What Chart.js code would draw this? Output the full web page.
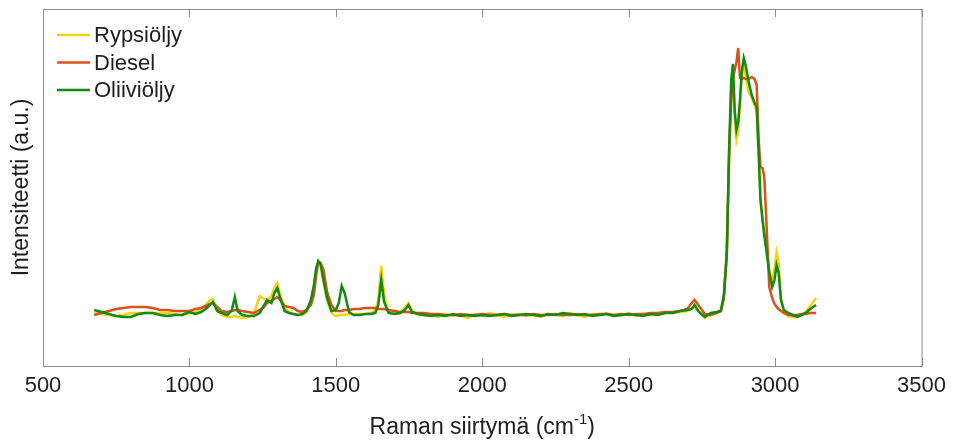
<!doctype html>
<html lang="fi">
<head>
<meta charset="utf-8">
<title>Raman-spektrit</title>
<script src="https://cdn.jsdelivr.net/npm/chart.js@4.4.1/dist/chart.umd.min.js"></script>
<style>
  html, body { margin: 0; padding: 0; background: #fff; }
  #wrap { position: relative; width: 953px; height: 441px; }
</style>
</head>
<body>
<div id="wrap"><canvas id="chart"></canvas></div>
<script>
// Raman shift grid (cm^-1), shared by all three spectra
const wavenumbers = [
  675, 700, 725, 750, 775, 800, 825, 850, 875, 900,
  925, 950, 975, 1000, 1020, 1040, 1055, 1070, 1080, 1095,
  1110, 1130, 1145, 1155, 1165, 1180, 1200, 1220, 1240, 1255,
  1265, 1280, 1290, 1300, 1310, 1325, 1340, 1355, 1370, 1385,
  1400, 1415, 1425, 1433, 1440, 1448, 1458, 1470, 1485, 1500,
  1510, 1520, 1530, 1545, 1560, 1580, 1600, 1620, 1635, 1645,
  1655, 1665, 1680, 1700, 1720, 1735, 1748, 1760, 1780, 1800,
  1825, 1850, 1875, 1900, 1925, 1950, 1975, 2000, 2025, 2050,
  2075, 2100, 2125, 2150, 2175, 2200, 2225, 2250, 2275, 2300,
  2325, 2350, 2375, 2400, 2425, 2450, 2475, 2500, 2525, 2550,
  2575, 2600, 2625, 2650,
  2675, 2700, 2715, 2725, 2740, 2760, 2780, 2800, 2815, 2825,
  2835, 2843, 2850, 2856, 2862, 2868, 2874, 2880, 2886, 2893,
  2900, 2910, 2920, 2930, 2937, 2944, 2950, 2957, 2963, 2970,
  2980, 2990, 2998, 3005, 3012, 3020, 3030, 3045, 3060, 3075,
  3090, 3105, 3120, 3130, 3140,
];

// intensities (a.u.)
const rypsioljy = [
  53, 52, 51, 50, 51, 53, 53, 53, 53, 53,
  53, 52, 51, 53, 54, 57, 61, 66, 67, 56,
  51, 49, 49, 50, 49, 48, 49, 52, 70, 67,
  66, 70, 78, 83, 72, 58, 54, 52, 51, 51,
  54, 64, 79, 96, 104, 100, 83, 66, 53, 50,
  51, 51, 51, 52, 52, 52, 52, 53, 56, 66,
  100, 71, 54, 53, 54, 58, 63, 55, 52, 51,
  51, 49, 52, 50, 51, 48, 52, 50, 53, 51,
  49, 51, 52, 50, 51, 49, 52, 51, 50, 53,
  51, 49, 52, 51, 53, 50, 51, 53, 50, 52,
  51, 53, 54, 53,
  54, 55, 57, 59, 54, 48, 51, 53, 57, 69,
  108, 201, 271, 294, 246, 226, 234, 261, 288, 303,
  288, 274, 268, 261, 254, 211, 166, 148, 134, 118,
  96, 84, 98, 114, 104, 68, 53, 50, 49, 49,
  51, 54, 60, 64, 68,
];

const diesel = [
  51, 53, 55, 57, 58, 59, 59, 59, 58, 56,
  56, 55, 55, 55, 57, 58, 60, 62, 63, 59,
  55, 54, 55, 56, 56, 55, 54, 53, 56, 59,
  63, 65, 67, 69, 66, 60, 59, 58, 55, 54,
  56, 61, 71, 91, 104, 103, 96, 74, 61, 55,
  55, 55, 56, 56, 57, 57, 58, 58, 58, 57,
  57, 57, 56, 55, 54, 54, 54, 53, 53, 53,
  52, 52, 51, 51, 52, 51, 51, 52, 51, 51,
  52, 51, 51, 51, 52, 51, 51, 52, 51, 51,
  52, 51, 51, 52, 52, 51, 52, 51, 52, 52,
  53, 53, 54, 54,
  55, 57, 63, 66, 60, 52, 51, 53, 55, 68,
  116, 216, 266, 288, 296, 304, 318, 288, 287, 288,
  287, 287, 289, 287, 281, 226, 199, 198, 189, 146,
  79, 68, 62, 59, 57, 55, 53, 51, 51, 51,
  52, 52, 53, 53, 53,
];

const oliivioljy = [
  56, 54, 52, 50, 49, 49, 52, 53, 53, 51,
  50, 51, 51, 54, 52, 54, 57, 61, 64, 55,
  53, 51, 56, 69, 55, 51, 50, 50, 53, 61,
  66, 63, 73, 78, 68, 55, 53, 52, 51, 52,
  55, 66, 81, 98, 105, 102, 86, 68, 55, 56,
  63, 80, 73, 54, 51, 51, 52, 52, 53, 61,
  86, 64, 53, 52, 53, 56, 61, 54, 52, 51,
  50, 51, 50, 52, 50, 51, 50, 51, 50, 51,
  52, 50, 51, 52, 51, 50, 52, 51, 53, 52,
  51, 52, 50, 51, 52, 50, 51, 52, 51, 50,
  52, 51, 53, 53,
  55, 56, 57, 61, 54, 49, 53, 54, 55, 71,
  111, 216, 286, 302, 256, 236, 244, 266, 294, 308,
  300, 284, 271, 263, 259, 213, 166, 146, 131, 116,
  94, 79, 86, 101, 93, 66, 56, 53, 51, 49,
  51, 53, 57, 59, 61,
];

const xTicks = [500, 1000, 1500, 2000, 2500, 3000, 3500];

const series = [
  { label: 'Rypsiöljy',  values: rypsioljy,  color: '#F6D215', order: 3 },
  { label: 'Diesel',     values: diesel,     color: '#D95319', order: 2 },
  { label: 'Oliiviöljy', values: oliivioljy, color: '#138A12', order: 1 },
];

const FONT = 'Helvetica, Arial, "Liberation Sans", sans-serif';
const TEXT = '#1e1e1e';
const EDGE = '#8f8f8f';

// box, inner ticks, legend and axis titles, MATLAB-style
const decor = {
  id: 'decor',
  afterDraw(chart) {
    const { ctx, chartArea: a, scales: { x } } = chart;
    ctx.save();
    ctx.strokeStyle = EDGE;
    ctx.lineWidth = 1;
    ctx.strokeRect(a.left + 0.5, a.top + 0.5, a.right - a.left, a.bottom - a.top);
    ctx.beginPath();
    for (const t of xTicks) {
      const px = Math.round(x.getPixelForValue(t)) + 0.5;
      ctx.moveTo(px, a.bottom);
      ctx.lineTo(px, a.bottom - 8);
      ctx.moveTo(px, a.top);
      ctx.lineTo(px, a.top + 8);
    }
    ctx.stroke();

    // legend
    ctx.font = '22px ' + FONT;
    ctx.textBaseline = 'middle';
    ctx.textAlign = 'left';
    series.forEach((s, i) => {
      const y = a.top + 26 + i * 27.5;
      ctx.strokeStyle = s.color;
      ctx.lineWidth = 2.5;
      ctx.beginPath();
      ctx.moveTo(a.left + 14, y);
      ctx.lineTo(a.left + 47, y);
      ctx.stroke();
      ctx.fillStyle = TEXT;
      ctx.fillText(s.label, a.left + 51, y + 1);
    });

    // x title with superscript
    const main = 'Raman siirtymä (cm';
    const sup = '-1';
    const tail = ')';
    ctx.font = '23px ' + FONT;
    const wMain = ctx.measureText(main).width;
    const wTail = ctx.measureText(tail).width;
    ctx.font = '15px ' + FONT;
    const wSup = ctx.measureText(sup).width;
    let tx = (a.left + a.right) / 2 - (wMain + wSup + wTail) / 2;
    const base = 434;
    ctx.textBaseline = 'alphabetic';
    ctx.fillStyle = TEXT;
    ctx.font = '23px ' + FONT;
    ctx.fillText(main, tx, base);
    tx += wMain;
    ctx.font = '15px ' + FONT;
    ctx.fillText(sup, tx, base - 10);
    tx += wSup;
    ctx.font = '23px ' + FONT;
    ctx.fillText(tail, tx, base);

    // y title
    ctx.translate(22, (a.top + a.bottom) / 2);
    ctx.rotate(-Math.PI / 2);
    ctx.textAlign = 'center';
    ctx.textBaseline = 'middle';
    ctx.fillText('Intensiteetti (a.u.)', 0, 0);
    ctx.restore();
  },
};

new Chart(document.getElementById('chart'), {
  type: 'line',
  data: {
    datasets: series.map((s) => ({
      label: s.label,
      data: wavenumbers.map((w, i) => ({ x: w, y: s.values[i] })),
      borderColor: s.color,
      backgroundColor: s.color,
      borderWidth: 2.5,
      pointRadius: 0,
      tension: 0,
      fill: false,
      order: s.order,
    })),
  },
  options: {
    responsive: true,
    maintainAspectRatio: false,
    animation: false,
    layout: { padding: { left: 43, right: 30, top: 9, bottom: 0 } },
    plugins: { legend: { display: false }, tooltip: { enabled: false } },
    scales: {
      x: {
        type: 'linear',
        min: 500,
        max: 3500,
        afterBuildTicks: (s) => { s.ticks = xTicks.map((v) => ({ value: v })); },
        afterFit: (s) => { s.height = 75; },
        ticks: {
          font: { size: 22, family: FONT },
          color: TEXT,
          padding: 7,
          maxRotation: 0,
          callback: (v) => String(v),
        },
        grid: { display: false, drawTicks: false },
        border: { display: false },
      },
      y: {
        display: false,
        min: 0,
        max: 357,
      },
    },
  },
  plugins: [decor],
});
</script>
</body>
</html>
